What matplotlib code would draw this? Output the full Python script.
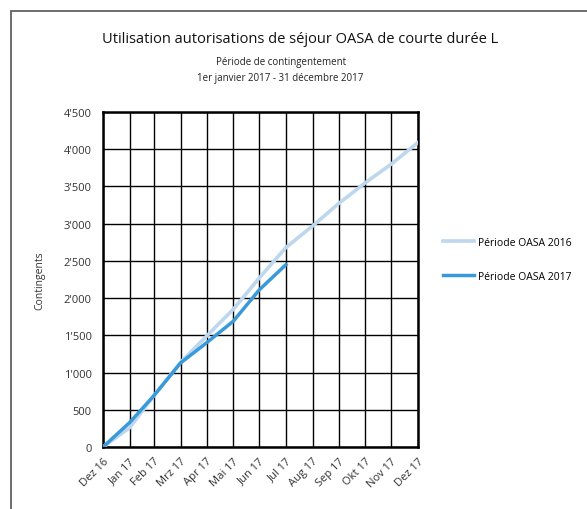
import numpy as np
import pandas as pd
import matplotlib
matplotlib.use('Agg')
import matplotlib.pyplot as plt
from matplotlib.patches import Rectangle
from matplotlib.ticker import FuncFormatter

plt.rcParams['font.family'] = ['Open Sans', 'DejaVu Sans']

# month-end dates
dates = pd.to_datetime(['2016-12-31', '2017-01-31', '2017-02-28', '2017-03-31', '2017-04-30',
                        '2017-05-31', '2017-06-30', '2017-07-31', '2017-08-31', '2017-09-30',
                        '2017-10-31', '2017-11-30', '2017-12-31'])
labels = ['Dez 16', 'Jan 17', 'Feb 17', 'Mrz 17', 'Apr 17', 'Mai 17', 'Jun 17',
          'Jul 17', 'Aug 17', 'Sep 17', 'Okt 17', 'Nov 17', 'Dez 17']
oasa_2016 = [0, 260, 690, 1140, 1490, 1850, 2270, 2680, 2970, 3270, 3550, 3800, 4090]
oasa_2017 = [0, 330, 690, 1130, 1400, 1690, 2110, 2450]

fig = plt.figure(figsize=(5.87, 5.10), dpi=100)
# outer chart border
fig.patches.append(Rectangle((11/587, -0.05), 1.1, 1.05 - 12/510, transform=fig.transFigure,
                             fill=False, edgecolor='#555555', linewidth=1.2))

ax = fig.add_axes([103/587, 62/510, 315/587, 335/510])
ax.plot(dates, oasa_2016, color='#BDD7EE', linewidth=2.6, label='Période OASA 2016', zorder=3)
ax.plot(dates[:len(oasa_2017)], oasa_2017, color='#3A9AD9', linewidth=2.5, label='Période OASA 2017', zorder=4)

ax.set_xlim(dates[0], dates[-1])
ax.set_ylim(0, 4500)
ax.set_xticks(dates)
ax.set_xticklabels(labels, rotation=45, ha='right', rotation_mode='anchor', fontsize=8, color='#333333')
ax.set_yticks(np.arange(0, 4501, 500))
ax.yaxis.set_major_formatter(FuncFormatter(lambda v, p: f"{int(v):,}".replace(',', "'")))
ax.tick_params(axis='y', labelsize=8, labelcolor='#333333', length=0, pad=8)
ax.tick_params(axis='x', length=0, pad=6)
ax.grid(True, color='black', linewidth=1.0)
for s in ax.spines.values():
    s.set_linewidth(1.8)
ax.set_ylabel('Contingents', fontsize=7.5, color='#333333', labelpad=13)

fig.text(300/587, 1 - 40/510, 'Utilisation autorisations de séjour OASA de courte durée L',
         ha='center', va='center', fontsize=10.5, color='#111111')
fig.text(0.478, 1 - 63/510, 'Période de contingentement', ha='center', va='center', fontsize=7, color='#222222')
fig.text(0.478, 1 - 79/510, '1er janvier 2017 - 31 décembre 2017', ha='center', va='center', fontsize=7, color='#222222')

ax.legend(loc='center left', bbox_to_anchor=(1.05, 0.56), frameon=False, fontsize=7.5,
          handlelength=3, labelspacing=2.2, handletextpad=0.3)

fig.savefig('out.png', dpi=100)
